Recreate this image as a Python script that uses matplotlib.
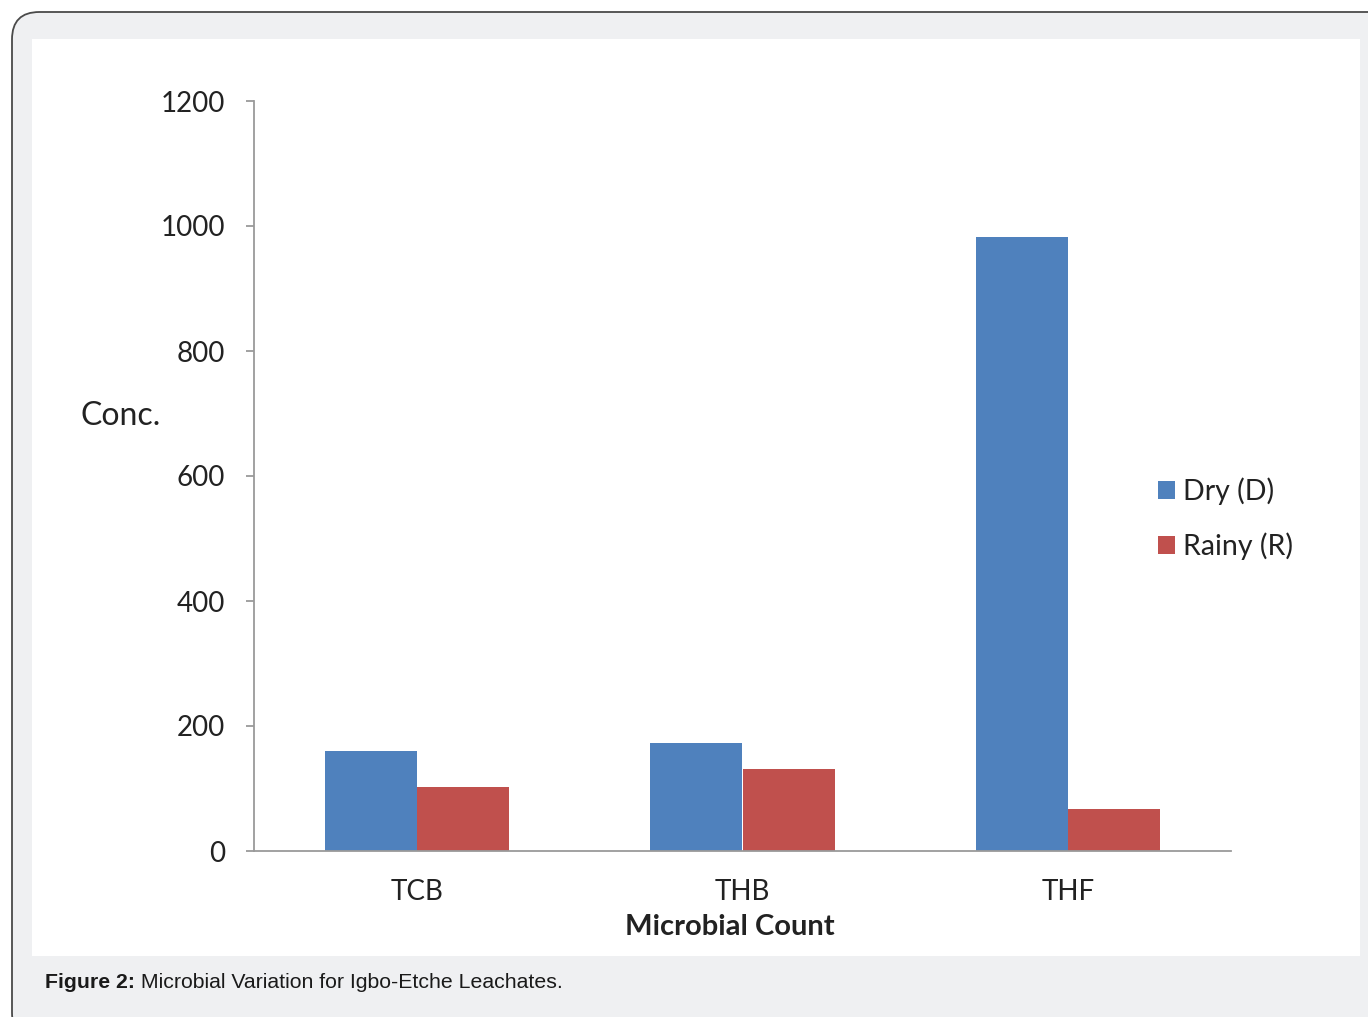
import numpy as np
import matplotlib
matplotlib.use("Agg")
from matplotlib import pyplot as plt
from matplotlib.patches import FancyBboxPatch, Rectangle

categories = ["TCB", "THB", "THF"]
dry = [160, 173, 983]
rainy = [103, 131, 67]
series_names = ["Dry (D)", "Rainy (R)"]
yticks = [0, 200, 400, 600, 800, 1000, 1200]

W, H = 1368, 1017
fig = plt.figure(figsize=(W / 100, H / 100), dpi=100)
fig.patch.set_facecolor("white")

px = lambda x, y: (x / W, 1 - y / H)

# card background with rounded border, running off the right/bottom edges
card = FancyBboxPatch(px(12, 1040), 1400 / W, (1040 - 12) / H,
                      boxstyle="round,pad=0,rounding_size=0.02",
                      transform=fig.transFigure, facecolor="#eff0f2",
                      edgecolor="#4a4a4a", linewidth=1.3, mutation_aspect=W / H,
                      zorder=-10)
fig.add_artist(card)
panel = Rectangle(px(32, 956), (1360 - 32) / W, (956 - 39) / H,
                  transform=fig.transFigure, facecolor="white", edgecolor="none",
                  zorder=-9)
fig.add_artist(panel)

ax = fig.add_axes([254 / W, 1 - 851 / H, (1231 - 254) / W, (851 - 101) / H])
ax.set_facecolor("none")
ax.set_zorder(5)

x = np.arange(len(categories))
w = 0.283
ax.bar(x - w / 2, dry, w, color="#4f81bd", label=series_names[0])
ax.bar(x + w / 2, rainy, w, color="#c0504d", label=series_names[1])

ax.set_xlim(-0.5, 2.5)
ax.set_ylim(0, 1200)
ax.set_yticks(yticks)
ax.set_xticks(x)
ax.set_xticklabels(categories)

font = "Lato"
for lab in ax.get_yticklabels() + ax.get_xticklabels():
    lab.set_fontfamily(font)
    lab.set_fontsize(20)
    lab.set_color("#222222")

for s in ["top", "right"]:
    ax.spines[s].set_visible(False)
for s in ["left", "bottom"]:
    ax.spines[s].set_color("#9a9a9a")
    ax.spines[s].set_linewidth(1.3)
ax.tick_params(axis="y", length=6, width=1.3, color="#9a9a9a", pad=15)
ax.tick_params(axis="x", length=0, pad=20)

fig.text(80 / W, 1 - 416 / H, "Conc.", fontsize=23, family=font,
         color="#222222", va="center", ha="left")
fig.text(730 / W, 1 - 927 / H, "Microbial Count", fontsize=21, family=font,
         weight="bold", color="#222222", va="center", ha="center")

leg = ax.legend(loc="upper left", bbox_to_anchor=(1132 / W, 1 - 452 / H),
                bbox_transform=fig.transFigure, frameon=False,
                prop={"family": font, "size": 20.5}, handlelength=0.6,
                handleheight=0.6, handletextpad=0.3, labelspacing=0.95)
for t in leg.get_texts():
    t.set_color("#222222")

cap = fig.text(45 / W, 1 - 983 / H, "Figure 2:", fontsize=15.3,
               family="Liberation Sans", weight="bold", va="center", ha="left",
               color="#1a1a1a")
fig.add_artist(plt.Annotation(" Microbial Variation for Igbo-Etche Leachates.",
                              xy=(1, 0.5), xycoords=cap, va="center", ha="left",
                              fontsize=15.3, family="Liberation Sans",
                              color="#1a1a1a"))

plt.savefig("out.png", dpi=100)
